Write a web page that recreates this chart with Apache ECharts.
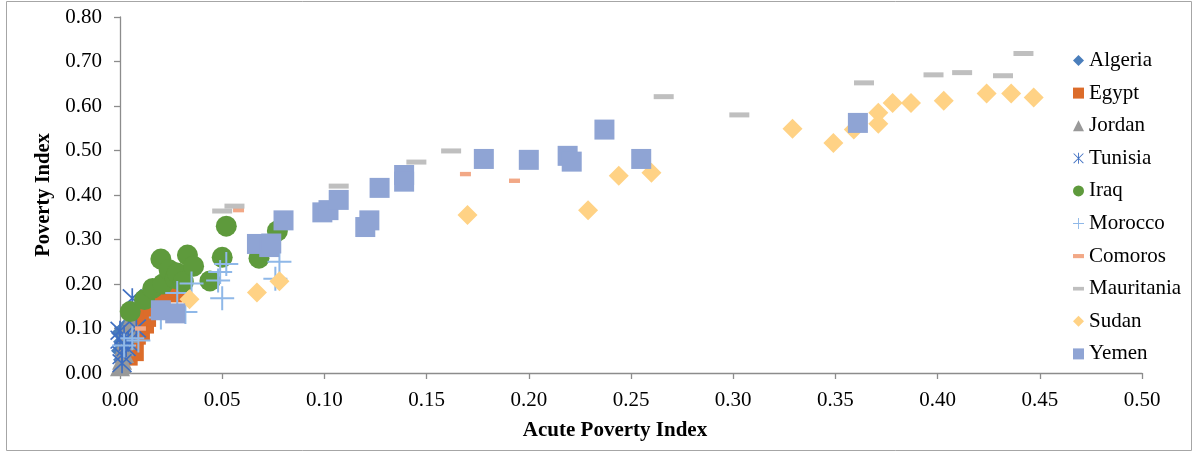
<!DOCTYPE html>
<html>
<head>
<meta charset="utf-8">
<script src="https://cdn.jsdelivr.net/npm/echarts@6/dist/echarts.min.js"></script>
<style>
  html, body { margin: 0; padding: 0; background: #fff; }
  #chart { width: 1195px; height: 452px; }
</style>
</head>
<body>
<div id="chart"></div>
<script>
// [acute poverty index, poverty index] per country
var algeria = [[0.000, 0.090], [0.001, 0.070], [0.000, 0.050], [0.002, 0.100], [0.001, 0.030]];
var egypt = [[0.004, 0.038], [0.007, 0.048], [0.008, 0.085], [0.010, 0.095], [0.012, 0.110],
  [0.013, 0.125], [0.016, 0.150], [0.020, 0.165], [0.026, 0.180], [0.028, 0.190]];
var jordan = [[0.000, 0.015], [0.001, 0.030], [0.002, 0.045], [0.002, 0.060], [0.003, 0.075],
  [0.004, 0.090], [0.004, 0.105], [0.005, 0.118], [0.001, 0.020]];
var tunisia = [[0.000, 0.095], [0.000, 0.075], [0.001, 0.040], [0.001, 0.022], [0.003, 0.058],
  [0.002, 0.085], [0.008, 0.100], [0.006, 0.168], [0.004, 0.070]];
var iraq = [[0.005, 0.138], [0.012, 0.165], [0.016, 0.190], [0.020, 0.256], [0.021, 0.200],
  [0.024, 0.232], [0.027, 0.212], [0.028, 0.225], [0.031, 0.205], [0.033, 0.265],
  [0.036, 0.240], [0.044, 0.207], [0.050, 0.260], [0.052, 0.330], [0.068, 0.258], [0.077, 0.319]];
var morocco = [[0.002, 0.062], [0.006, 0.078], [0.009, 0.073], [0.020, 0.125], [0.028, 0.180],
  [0.032, 0.137], [0.035, 0.201], [0.048, 0.208], [0.049, 0.227], [0.050, 0.168],
  [0.052, 0.245], [0.076, 0.212], [0.078, 0.250]];
var comoros = [[0.010, 0.100], [0.020, 0.150], [0.058, 0.366], [0.169, 0.447], [0.193, 0.432]];
var mauritania = [[0.050, 0.364], [0.056, 0.375], [0.107, 0.420], [0.145, 0.474], [0.162, 0.499],
  [0.266, 0.621], [0.303, 0.580], [0.364, 0.652], [0.398, 0.670], [0.412, 0.675],
  [0.432, 0.668], [0.442, 0.718]];
var sudan = [[0.034, 0.166], [0.067, 0.181], [0.078, 0.206], [0.170, 0.355], [0.229, 0.366],
  [0.244, 0.443], [0.260, 0.450], [0.329, 0.549], [0.349, 0.517], [0.359, 0.547],
  [0.371, 0.585], [0.371, 0.560], [0.378, 0.607], [0.387, 0.607], [0.403, 0.612],
  [0.424, 0.628], [0.436, 0.628], [0.447, 0.619]];
var yemen = [[0.020, 0.141], [0.027, 0.134], [0.067, 0.290], [0.073, 0.283], [0.074, 0.291],
  [0.080, 0.343], [0.099, 0.361], [0.102, 0.366], [0.107, 0.389], [0.120, 0.328],
  [0.122, 0.343], [0.127, 0.416], [0.139, 0.445], [0.139, 0.430], [0.178, 0.481],
  [0.200, 0.479], [0.219, 0.488], [0.221, 0.475], [0.237, 0.547], [0.255, 0.481], [0.361, 0.562]];

var xTicks = { min: 0, max: 0.5, step: 0.05 };
var yTicks = { min: 0, max: 0.8, step: 0.1 };

var plusPath = 'path://M11,0h2v11h11v2h-11v11h-2v-11h-11v-2h11z';
var starPath = 'path://M9.2,0h1.6v20h-1.6z M0.6,1.7L1.7,0.6L19.4,18.3L18.3,19.4z M18.3,0.6L19.4,1.7L1.7,19.4L0.6,18.3z';
var dashBig = 'path://M0,0h20v5h-20z';
var dashSmall = 'path://M0,0h11v4.4h-11z';

var font = 'Liberation Serif';
var chart = echarts.init(document.getElementById('chart'));

function sc(name, data, symbol, size, color) {
  return {
    name: name,
    type: 'scatter',
    data: data,
    symbol: symbol,
    symbolSize: size,
    itemStyle: { color: color, opacity: 1 },
    emphasis: { disabled: true }
  };
}

var option = {
  backgroundColor: '#fff',
  animation: false,
  graphic: [{
    type: 'rect',
    shape: { x: 6.5, y: 1.5, width: 1185, height: 449 },
    style: { fill: 'none', stroke: '#a6a6a6', lineWidth: 1 },
    silent: true
  }],
  grid: { left: 120, right: 53, top: 17, bottom: 79 },
  legend: {
    orient: 'vertical',
    left: 1068,
    top: 45,
    itemWidth: 11,
    itemHeight: 11,
    itemGap: 11.6,
    textStyle: { fontFamily: font, fontSize: 21, color: '#000', lineHeight: 20 },
    data: [
      { name: 'Algeria', icon: 'diamond' },
      { name: 'Egypt', icon: 'rect' },
      { name: 'Jordan', icon: 'triangle' },
      { name: 'Tunisia', icon: starPath },
      { name: 'Iraq', icon: 'circle' },
      { name: 'Morocco', icon: plusPath },
      { name: 'Comoros', icon: 'path://M0,0h8v3h-8z' },
      { name: 'Mauritania', icon: 'path://M0,0h12v4h-12z' },
      { name: 'Sudan', icon: 'diamond' },
      { name: 'Yemen', icon: 'rect' }
    ]
  },
  xAxis: {
    type: 'value',
    min: xTicks.min,
    max: xTicks.max,
    interval: xTicks.step,
    name: 'Acute Poverty Index',
    nameLocation: 'middle',
    nameGap: 47,
    nameTextStyle: { fontFamily: font, fontSize: 21, fontWeight: 'bold', color: '#000',
      padding: [0, 32, 0, 0] },
    axisLine: { lineStyle: { color: '#8c8c8c', width: 1.3 } },
    axisTick: { show: true, length: 6, lineStyle: { color: '#8c8c8c', width: 1.3 } },
    axisLabel: { margin: 17, fontFamily: font, fontSize: 21, color: '#000',
      formatter: function (v) { return v.toFixed(2); } },
    splitLine: { show: false }
  },
  yAxis: {
    type: 'value',
    min: yTicks.min,
    max: yTicks.max,
    interval: yTicks.step,
    name: 'Poverty Index',
    nameLocation: 'middle',
    nameGap: 65,
    nameTextStyle: { fontFamily: font, fontSize: 20.5, fontWeight: 'bold', color: '#000' },
    axisLine: { show: true, lineStyle: { color: '#8c8c8c', width: 1.3 } },
    axisTick: { show: true, length: 6, lineStyle: { color: '#8c8c8c', width: 1.3 } },
    axisLabel: { margin: 18, fontFamily: font, fontSize: 21, color: '#000',
      formatter: function (v) { return v.toFixed(2); } },
    splitLine: { show: false }
  },
  series: [
    sc('Algeria', algeria, 'diamond', 18, '#4a7ebb'),
    sc('Egypt', egypt, 'rect', 19, '#dc6c2a'),
    sc('Jordan', jordan, 'triangle', 20, '#999999'),
    sc('Tunisia', tunisia, starPath, 20, '#3f6fc1'),
    sc('Iraq', iraq, 'circle', 21, '#5e9a3c'),
    sc('Morocco', morocco, plusPath, 24, '#8fb8e8'),
    sc('Comoros', comoros, dashSmall, [11, 4.4], '#f2a886'),
    sc('Mauritania', mauritania, dashBig, [20, 5], '#bfbfbf'),
    sc('Sudan', sudan, 'diamond', 20, '#ffd285'),
    sc('Yemen', yemen, 'rect', 20, '#8fa4d4')
  ]
};
chart.setOption(option);
</script>
</body>
</html>
